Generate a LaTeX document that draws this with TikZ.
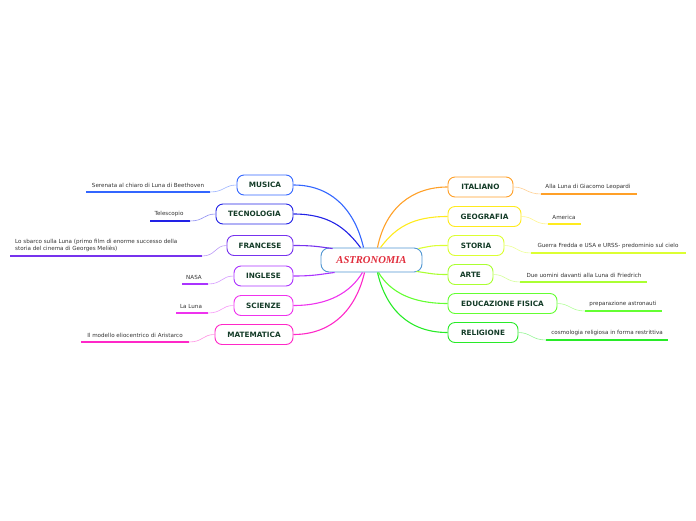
\documentclass[tikz,border=0pt]{standalone}
\usepackage{fontspec}
\setmainfont{DejaVu Sans}
\newfontfamily\titlefont{Liberation Serif}
\usetikzlibrary{calc}
\definecolor{cmus}{RGB}{51,102,255}
\definecolor{ctec}{RGB}{34,34,230}
\definecolor{cfra}{RGB}{119,51,238}
\definecolor{cing}{RGB}{170,51,255}
\definecolor{csci}{RGB}{238,51,238}
\definecolor{cmat}{RGB}{255,40,200}
\definecolor{cita}{RGB}{255,160,40}
\definecolor{cgeo}{RGB}{255,235,30}
\definecolor{csto}{RGB}{220,255,50}
\definecolor{cart}{RGB}{170,255,50}
\definecolor{cedu}{RGB}{100,255,50}
\definecolor{crel}{RGB}{40,235,40}
\definecolor{ctxt}{RGB}{20,60,40}
\definecolor{cctr}{RGB}{80,150,210}
\definecolor{cred}{RGB}{225,45,60}
\begin{document}
\begin{tikzpicture}[x=1pt,y=-1pt,
  topic/.style={draw,rounded corners=7pt,line width=0.9pt,fill=white,minimum height=20pt,
    inner sep=0pt,text=ctxt,font=\fontsize{7.3}{8}\selectfont\bfseries},
  leaf/.style={inner sep=0pt,text=black!80,font=\fontsize{5.6}{6.8}\selectfont},
  limb/.style={line width=1.1pt},
  twig/.style={line width=0.6pt},
  uline/.style={line width=1.4pt}]
\useasboundingbox (0,0) rectangle (696,520);
% centre
\node[draw=cctr,rounded corners=8pt,line width=0.9pt,fill=white,minimum width=101pt,minimum height=24pt,
  inner sep=0pt,text=cred,font=\titlefont\fontsize{10.6}{12}\selectfont\bfseries\itshape] (ctr) at (371.5,260) {ASTRONOMIA};
% topics
\foreach \n/\x/\y/\w/\t in {mus/265/185/56/MUSICA,tec/254.5/214/77/TECNOLOGIA,fra/260/245.5/66/FRANCESE,
  ing/263.5/276/59/INGLESE,sci/263.5/305.5/59/SCIENZE,mat/254/334.5/78/MATEMATICA,
  ita/480.5/187/65/ITALIANO,geo/484.5/216.5/73/GEOGRAFIA,sto/476/245.5/56/STORIA,
  art/470.5/274.5/45/ARTE,edu/502.5/303.5/109/EDUCAZIONE FISICA,rel/483/332.5/70/RELIGIONE}
  {\node[topic,draw=c\n,minimum width=\w pt] (\n) at (\x,\y) {\t};}
% limbs from the centre
\draw[limb,cmus] ($(ctr.north)+(-8,0)$) .. controls +(-8,-35) and +(40,0) .. (mus.east);
\draw[limb,ctec] ($(ctr.north)+(-11,0)$) .. controls +(-15,-20) and +(35,0) .. (tec.east);
\draw[limb,cfra] ($(ctr.north west)+(12,1)$) .. controls +(-15,-2) and +(20,0) .. (fra.east);
\draw[limb,cing] ($(ctr.south west)+(14,0)$) .. controls +(-15,2) and +(20,0) .. (ing.east);
\draw[limb,csci] ($(ctr.south)+(-9,0)$) .. controls +(-12,20) and +(35,0) .. (sci.east);
\draw[limb,cmat] ($(ctr.south)+(-7,0)$) .. controls +(-8,35) and +(40,0) .. (mat.east);
\draw[limb,cita] ($(ctr.north)+(6,0)$) .. controls +(8,-40) and +(-35,0) .. (ita.west);
\draw[limb,cgeo] ($(ctr.north)+(9,0)$) .. controls +(15,-20) and +(-35,0) .. (geo.west);
\draw[limb,csto] ($(ctr.north east)+(-4,1)$) .. controls +(15,-3) and +(-15,0) .. (sto.west);
\draw[limb,cart] ($(ctr.south east)+(-6,-1)$) .. controls +(15,2) and +(-15,0) .. (art.west);
\draw[limb,cedu] ($(ctr.south)+(7,0)$) .. controls +(12,20) and +(-35,0) .. (edu.west);
\draw[limb,crel] ($(ctr.south)+(6,0)$) .. controls +(8,35) and +(-40,0) .. (rel.west);
% leaves on the left
\foreach \n/\x/\y/\a/\b/\t in {mus/148/185/86/210/Serenata al chiaro di Luna di Beethoven,
  tec/169/214/150/190/Telescopio,ing/194/277/182/208/NASA,sci/191/306/176/208/La Luna,
  mat/135/335/81/189/Il modello eliocentrico di Aristarco}{
  \node[leaf] (l\n) at (\x,\y) {\t};
  \coordinate (l\n A) at (\a,\y+7);
  \coordinate (l\n B) at (\b,\y+7);
  \draw[uline,c\n] (l\n A) -- (l\n B);
  \draw[twig,c\n!50] (l\n B) .. controls +(14,0) and +(-12,0) .. (\n.west);
}
\node[leaf,align=left,anchor=west] (lfra) at (15,245.5) {Lo sbarco sulla Luna (primo film di enorme successo della\\storia del cinema di Georges Meli\`es)};
\coordinate (lfraA) at (10,256);
\coordinate (lfraB) at (202,256);
\draw[uline,cfra] (lfraA) -- (lfraB);
\draw[twig,cfra!50] (lfraB) .. controls +(14,0) and +(-12,0) .. (fra.west);
% leaves on the right
\foreach \n/\x/\y/\a/\b/\t in {ita/588/187/541/637/Alla Luna di Giacomo Leopardi,
  geo/564/217/548/581/America,sto/608/246/531/686/Guerra Fredda e USA e URSS- predominio sul cielo,
  art/584/275/520/647/Due uomini davanti alla Luna di Friedrich,edu/623/304/585/662/preparazione astronauti,
  rel/607/333/546/668/cosmologia religiosa in forma restrittiva}{
  \node[leaf] (l\n) at (\x,\y) {\t};
  \coordinate (l\n A) at (\a,\y+7);
  \coordinate (l\n B) at (\b,\y+7);
  \draw[uline,c\n] (l\n A) -- (l\n B);
  \draw[twig,c\n!50] (\n.east) .. controls +(12,0) and +(-14,0) .. (l\n A);
}
\end{tikzpicture}
\end{document}
